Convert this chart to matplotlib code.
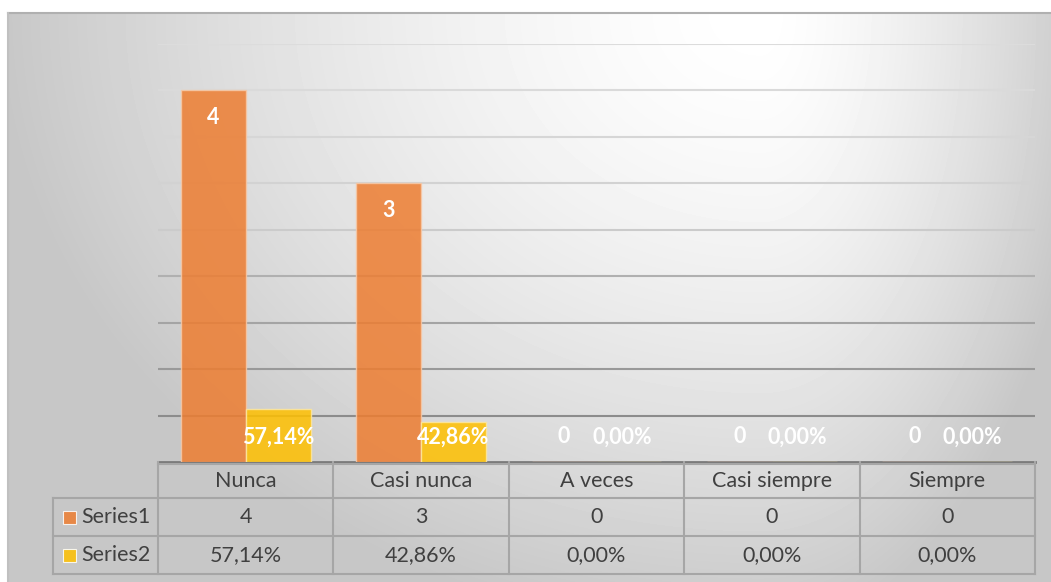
import numpy as np
import matplotlib.pyplot as plt

categories = ['Nunca', 'Casi nunca', 'A veces', 'Casi siempre', 'Siempre']
series1 = [4, 3, 0, 0, 0]
series2 = [0.5714, 0.4286, 0.0, 0.0, 0.0]
series1_text = ['4', '3', '0', '0', '0']
series2_text = ['57,14%', '42,86%', '0,00%', '0,00%', '0,00%']
series_names = ['Series1', 'Series2']

orange = '#ED7D31'
yellow = '#FFC000'
text_col = '#404040'
line_col = '#a6a6a6'
fs = 15.5

plt.rcParams['font.family'] = ['Lato', 'DejaVu Sans']

W, H = 1051, 582
fig = plt.figure(figsize=(W / 100, H / 100), dpi=100)

# full-figure overlay in pixel coordinates (background + table)
bg = fig.add_axes([0, 0, 1, 1])
bg.set_xlim(0, W)
bg.set_ylim(H, 0)
bg.axis('off')

x0, y0 = 8, 13
yy, xx = np.mgrid[y0:H, x0:W].astype(float)
cx, cy = 760, 13
dx = np.where(xx < cx, (xx - cx) / 760, (xx - cx) / 330)
dy = (yy - cy) / 620
d = np.clip(np.sqrt(dx**2 + dy**2), 0, 1)
val = 1 - 0.22 * d**1.5
bg.imshow(val, cmap='gray', vmin=0, vmax=1, extent=(x0, W, H, y0),
          aspect='auto', zorder=0, interpolation='bilinear')
bg.plot([x0, W], [y0, y0], color='#b0b0b0', lw=1.5, zorder=1)
bg.plot([x0, x0], [y0, H], color='#c0c0c0', lw=1.5, zorder=1)

# plot area
pl, pr, pt, pb = 158, 1035, 44, 462
ax = fig.add_axes([pl / W, 1 - pb / H, (pr - pl) / W, (pb - pt) / H])
ax.patch.set_alpha(0)
ax.set_xlim(-0.5, len(categories) - 0.5)
ax.set_ylim(0, 4.5)
ax.set_xticks([])
ax.set_yticks([])
for s in ax.spines.values():
    s.set_visible(False)

grid_levels = np.arange(0.5, 4.51, 0.5)
grid_cols = ['#8c8c8c', '#999999', '#a4a4a4', '#b0b0b0', '#cbcbcb',
             '#d2d2d2', '#d6d6d6', '#dadada', '#dcdcdc']
for g, c in zip(grid_levels, grid_cols):
    ax.axhline(g, color=c, lw=1.5, zorder=1)

x = np.arange(len(categories))
w = 0.37
ax.bar(x - w / 2, series1, w, color=orange, alpha=0.85,
       edgecolor='#f6c9a8', lw=1, zorder=2)
ax.bar(x + w / 2, series2, w, color=yellow, alpha=0.85,
       edgecolor='#fde7a0', lw=1, zorder=2)

for i in range(len(categories)):
    y1 = series1[i] - 0.29 if series1[i] > 0.5 else 0.27
    ax.text(x[i] - w / 2, y1, series1_text[i], ha='center', va='center',
            color='white', fontsize=fs, fontweight='bold', zorder=3)
    shift = 0 if series2[i] > 0 else -0.04
    ax.text(x[i] + w / 2 + shift, 0.27, series2_text[i], ha='center',
            va='center', color='white', fontsize=fs, fontweight='bold',
            zorder=3)

# data table
col_w = (pr - pl) / len(categories)
r0, r1, r2, r3 = 462, 498, 536, 574
lx = 53
lw_t = 1.5
bg.plot([pl, pr], [r0, r0], color='#7a7a7a', lw=2, zorder=5)
bg.plot([pl, pr], [r0 + 1.5, r0 + 1.5], color=line_col, lw=lw_t, zorder=5)
for r in (r1, r2, r3):
    bg.plot([lx, pr], [r, r], color=line_col, lw=lw_t, zorder=5)
for i in range(len(categories) + 1):
    bg.plot([pl + i * col_w] * 2, [r0, r3], color=line_col, lw=lw_t, zorder=5)
bg.plot([lx, lx], [r1, r3], color=line_col, lw=lw_t, zorder=5)

for i, cat in enumerate(categories):
    cxm = pl + (i + 0.5) * col_w
    bg.text(cxm, (r0 + r1) / 2 + 1, cat, ha='center', va='center',
            color=text_col, fontsize=fs, zorder=6)
    bg.text(cxm, (r1 + r2) / 2, series1_text[i], ha='center', va='center',
            color=text_col, fontsize=fs, zorder=6)
    bg.text(cxm, (r2 + r3) / 2, series2_text[i], ha='center', va='center',
            color=text_col, fontsize=fs, zorder=6)

for j, (name, c) in enumerate(zip(series_names, [orange, yellow])):
    ym = (r1 + r2) / 2 if j == 0 else (r2 + r3) / 2
    bg.add_patch(plt.Rectangle((63, ym - 6.5), 13, 13, facecolor=c, alpha=0.85,
                               edgecolor='white', lw=0.8, zorder=6))
    bg.text(81, ym, name, ha='left', va='center', color=text_col,
            fontsize=fs, zorder=6)

fig.savefig('out.png', dpi=100)
